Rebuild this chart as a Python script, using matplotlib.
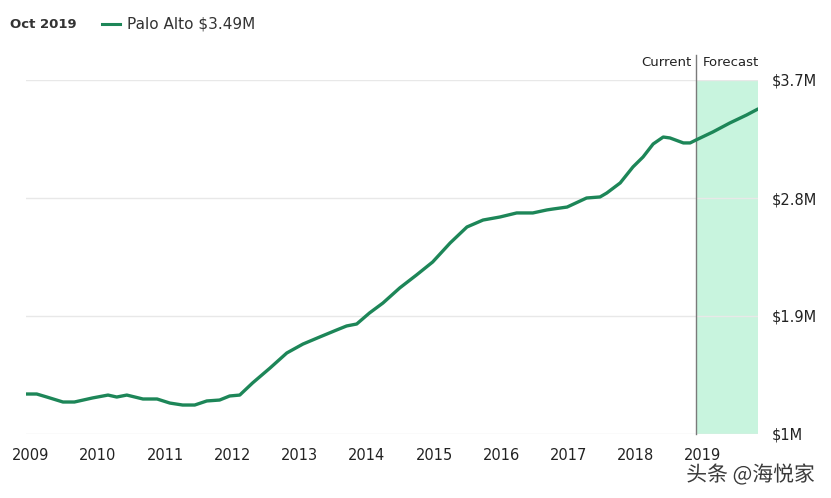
import matplotlib
matplotlib.use("Agg")
import matplotlib.pyplot as plt
import matplotlib.patheffects as pe

# ---- data ----
years = [2008.93, 2009.09, 2009.24, 2009.48, 2009.65, 2009.92, 2010.15, 2010.28,
         2010.43, 2010.67, 2010.88, 2011.07, 2011.26, 2011.44, 2011.62, 2011.81,
         2011.96, 2012.11, 2012.30, 2012.56, 2012.81, 2013.05, 2013.30, 2013.55,
         2013.70, 2013.85, 2014.04, 2014.24, 2014.49, 2014.74, 2014.98, 2015.24,
         2015.49, 2015.73, 2015.98, 2016.23, 2016.47, 2016.68, 2016.77, 2016.98,
         2017.27, 2017.47, 2017.57, 2017.77, 2017.96, 2018.11, 2018.26, 2018.41,
         2018.51, 2018.71, 2018.81, 2018.90, 2019.15, 2019.40, 2019.65, 2019.82]
values = [1.305, 1.305, 1.282, 1.244, 1.244, 1.275, 1.297, 1.282,
          1.297, 1.267, 1.267, 1.236, 1.221, 1.221, 1.252, 1.259,
          1.290, 1.297, 1.389, 1.503, 1.618, 1.686, 1.740, 1.793,
          1.824, 1.839, 1.923, 1.999, 2.114, 2.213, 2.312, 2.457,
          2.579, 2.632, 2.655, 2.686, 2.686, 2.709, 2.716, 2.731,
          2.800, 2.808, 2.838, 2.915, 3.037, 3.113, 3.212, 3.265,
          3.258, 3.220, 3.220, 3.243, 3.304, 3.372, 3.433, 3.479]
current_year = 2018.90
x_ticks = [2009, 2010, 2011, 2012, 2013, 2014, 2015, 2016, 2017, 2018, 2019]
x_labels = [str(y) for y in x_ticks]
y_ticks = [1.0, 1.9, 2.8, 3.7]
y_labels = ["$1M", "$1.9M", "$2.8M", "$3.7M"]
header_date = "Oct 2019"
series_label = "Palo Alto $3.49M"
watermark = "头条 @海悦家"

LINE = "#1d8658"
SHADE = "#c8f4de"
TXT = "#222222"
FONT = "DejaVu Sans"

W, H = 831, 498
fig = plt.figure(figsize=(W / 100, H / 100), dpi=100)
fig.patch.set_facecolor("white")

left, right, top, bottom = 26, 758, 80, 434
ax = fig.add_axes([left / W, 1 - bottom / H, (right - left) / W, (bottom - top) / H])
ax.set_facecolor("white")

ax.set_xlim(years[0], years[-1])
ax.set_ylim(1.0, 3.7)

# forecast shading
ax.axvspan(current_year, years[-1], color=SHADE, lw=0, zorder=0)

# grid
for yv in y_ticks:
    ax.axhline(yv, color="#e8e8e8", lw=1, zorder=1)

# current line extending above the axes
ax.plot([current_year, current_year], [1.0, 3.7 + 25 / 131.1], color="#7a7a7a",
        lw=1, clip_on=False, zorder=2)

ax.plot(years, values, color=LINE, lw=2.4, zorder=3, solid_capstyle="round",
        solid_joinstyle="round")

for s in ax.spines.values():
    s.set_visible(False)

ax.set_xticks(x_ticks)
ax.set_xticklabels(x_labels, fontsize=10.5, color=TXT, family=FONT)
ax.tick_params(axis="x", length=0, pad=10)

ax.yaxis.tick_right()
ax.set_yticks(y_ticks)
ax.set_yticklabels(y_labels, fontsize=10.5, color=TXT, family=FONT)
ax.tick_params(axis="y", length=0, pad=10)

# Current | Forecast labels
fig.text((696 - 5) / W, 1 - 63 / H, "Current", ha="right", va="center",
         fontsize=9.5, color=TXT, family=FONT)
fig.text((696 + 7) / W, 1 - 63 / H, "Forecast", ha="left", va="center",
         fontsize=9.5, color=TXT, family=FONT)

# header
fig.text(10 / W, 1 - 24 / H, header_date, ha="left", va="center",
         fontsize=9.5, color="#333333", fontweight="bold", family=FONT)
fig.add_artist(plt.Line2D([102 / W, 120 / W], [1 - 24 / H, 1 - 24 / H],
                          color=LINE, lw=2.2))
fig.text(127 / W, 1 - 24 / H, series_label, ha="left", va="center",
         fontsize=11, color="#333333", family=FONT)

# watermark
fig.text(815 / W, 1 - 475 / H, watermark, ha="right", va="center",
         fontsize=15, color="#3a3a3a", family=["Noto Sans CJK SC", "DejaVu Sans"],
         path_effects=[pe.withStroke(linewidth=2, foreground="white")])

fig.savefig("out.png", dpi=100, facecolor="white")
